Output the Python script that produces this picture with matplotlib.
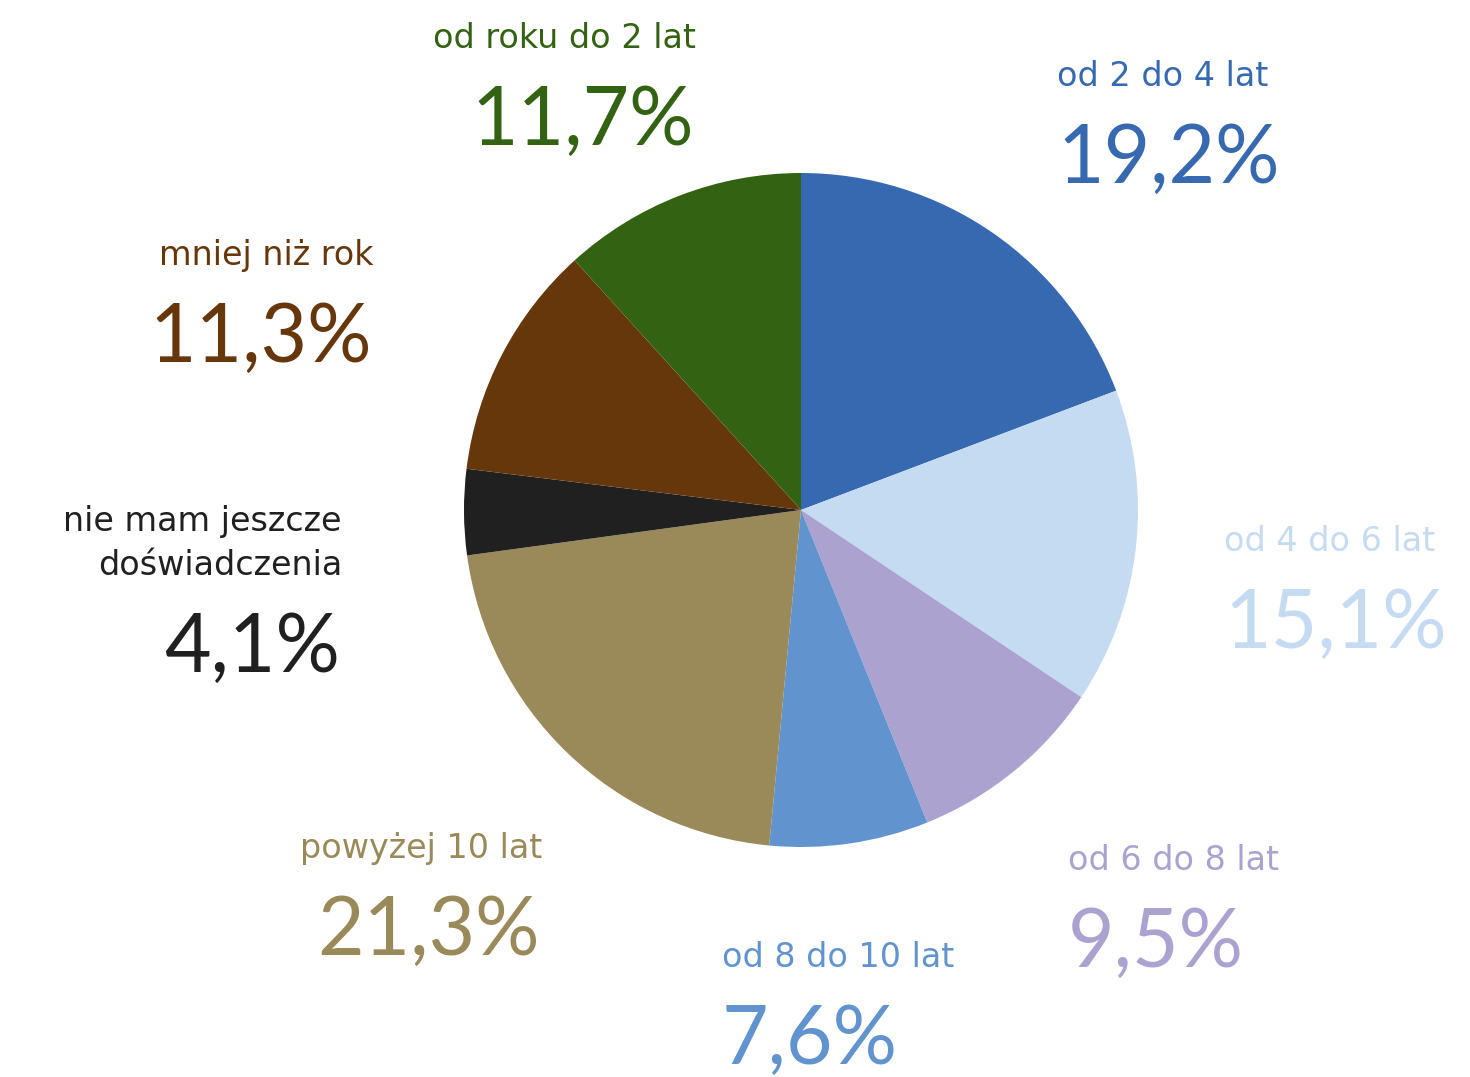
import matplotlib.pyplot as plt

plt.rcParams['font.family'] = ['Lato', 'DejaVu Sans']

categories = ['od 2 do 4 lat', 'od 4 do 6 lat', 'od 6 do 8 lat', 'od 8 do 10 lat',
              'powyżej 10 lat', 'nie mam jeszcze\ndoświadczenia', 'mniej niż rok',
              'od roku do 2 lat']
shares = [19.2, 15.1, 9.5, 7.6, 21.3, 4.1, 11.3, 11.7]
colors = ['#3769b1', '#c5dbf2', '#aba2cf', '#6193cf', '#9a8a5a', '#202020',
          '#66370b', '#336212']

# label anchor (x, baseline of the percentage, alignment) in pixels from top-left
label_pos = [(1057, 183, 'left'), (1224, 648, 'left'), (1068, 967, 'left'),
             (722, 1064, 'left'), (540, 955, 'right'), (340, 672, 'right'),
             (372, 362, 'right'), (694, 145, 'right')]

W, H = 1470, 1077
fig = plt.figure(figsize=(W / 100, H / 100), dpi=100)
ax = fig.add_axes([0, 0, 1, 1])

ax.pie(shares, colors=colors, startangle=90, counterclock=False,
       center=(801, H - 510), radius=337, frame=True,
       wedgeprops=dict(linewidth=0))
ax.set_xlim(0, W)
ax.set_ylim(0, H)
ax.set_aspect('equal')
ax.axis('off')

for name, val, col, (x, base, ha) in zip(categories, shares, colors, label_pos):
    pct = f'{val:.1f}%'.replace('.', ',')
    ax.text(x, H - base, pct, color=col, fontsize=58, ha=ha, va='baseline',
            fontfamily='Lato')
    lines = name.split('\n')
    for i, line in enumerate(reversed(lines)):
        ax.text(x + (2 if ha == 'right' else 0), H - (base - 97 - 44 * i), line,
                color=col, fontsize=24, ha=ha, va='baseline',
                fontfamily='DejaVu Sans')

fig.savefig('out.png', dpi=100)
